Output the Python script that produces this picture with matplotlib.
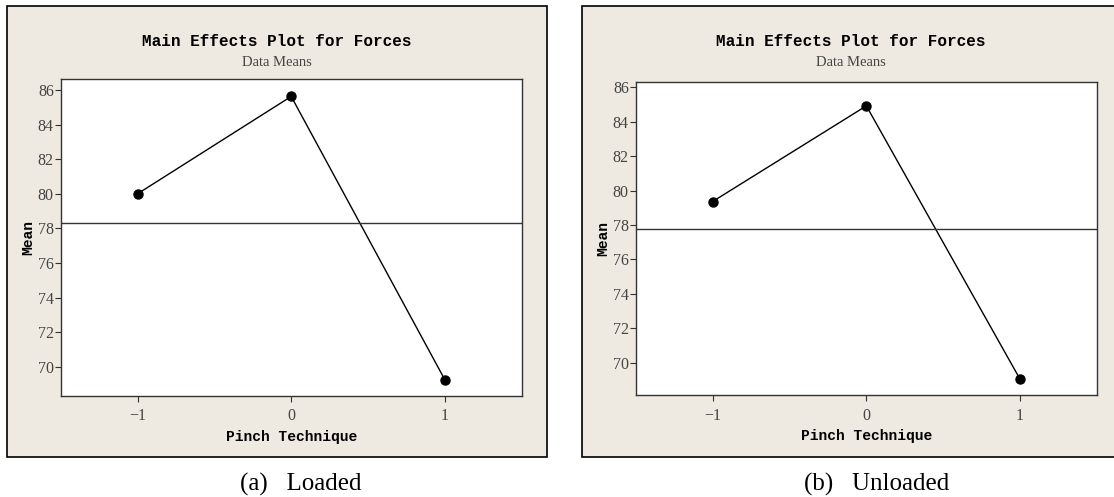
import matplotlib.pyplot as plt
from matplotlib.patches import Rectangle

# data
levels = [-1, 0, 1]
tick_labels = ['\u22121', '0', '1']
loaded_means = [80.0, 85.63, 69.25]
unloaded_means = [79.36, 84.92, 69.03]
yticks = [70, 72, 74, 76, 78, 80, 82, 84, 86]

W, H = 1114, 497
BG = '#eeeae1'

fig = plt.figure(figsize=(W / 100, H / 100), dpi=100)
fig.patch.set_facecolor('white')


def px(x0, y0, x1, y1):
    # pixel box (top-left origin) -> figure fraction rect
    return [x0 / W, 1 - y1 / H, (x1 - x0) / W, (y1 - y0) / H]


def panel(frame, box, means, ylim, caption):
    fx = px(*frame)
    fig.patches.append(Rectangle((fx[0], fx[1]), fx[2], fx[3], transform=fig.transFigure,
                                 facecolor=BG, edgecolor='black', lw=1.2, zorder=-1))
    cx = fx[0] + fx[2] / 2
    fig.text(cx, 1 - 42 / H, 'Main Effects Plot for Forces', ha='center', va='center',
             family='Liberation Mono', weight='bold', fontsize=11.5)
    fig.text(cx, 1 - 62 / H, 'Data Means', ha='center', va='center',
             family='Liberation Serif', fontsize=10.5, color='#444444')

    ax = fig.add_axes(px(*box), zorder=2)
    ax.set_facecolor('white')
    ax.plot(levels, means, '-o', color='black', lw=1.0, ms=6.5)
    ax.axhline(sum(means) / len(means), color='#333333', lw=1.0)
    ax.set_xlim(-1.5, 1.5)
    ax.set_ylim(*ylim)
    ax.set_xticks(levels)
    ax.set_xticklabels(tick_labels)
    ax.set_yticks(yticks)
    for s in ax.spines.values():
        s.set_color('#333333')
        s.set_linewidth(1.0)
    ax.tick_params(direction='out', length=4, width=0.8, color='#333333',
                   labelcolor='#444444', labelsize=11.5)
    ax.tick_params(axis='x', pad=5)
    ax.tick_params(axis='y', pad=1)
    for lab in ax.get_xticklabels() + ax.get_yticklabels():
        lab.set_family('Liberation Serif')
    ax.set_xlabel('Pinch Technique', family='Liberation Mono', weight='bold',
                  fontsize=10.5, labelpad=4)
    ax.set_ylabel('Mean', family='Liberation Mono', weight='bold', fontsize=10.5, labelpad=2)

    bx = px(*box)
    fig.text(bx[0] + bx[2] / 2 + 10 / W, 1 - 484 / H, caption, ha='center', va='center',
             family='Liberation Serif', fontsize=18)
    return ax


panel((7, 6, 546.7, 457.3), (60.7, 79.3, 521.7, 395.7), loaded_means, (68.33, 86.62),
      '(a)   Loaded')
panel((582.3, 6, 1120, 457), (635.7, 82.3, 1097, 395), unloaded_means, (68.12, 86.29),
      '(b)   Unloaded')

fig.savefig('out.png', dpi=100)
